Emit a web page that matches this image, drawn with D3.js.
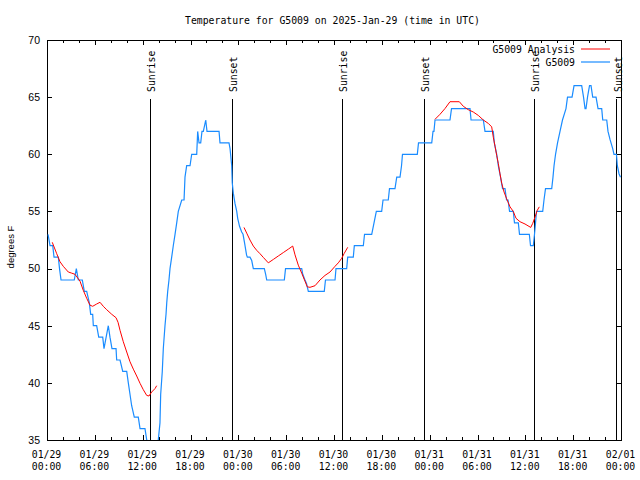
<!DOCTYPE html>
<html><head><meta charset="utf-8">
<script src="https://cdn.jsdelivr.net/npm/d3@7"></script>
<style>
body{margin:0;background:#fff;}
svg{display:block;}
.mono{font-family:"DejaVu Sans Mono","Liberation Mono",monospace;font-size:9.8px;fill:#000;}
.sans{font-family:"Liberation Sans",Arial,sans-serif;fill:#000;}
</style>
</head><body>
<svg id="c" width="640" height="480"></svg>
<script>
// ---- data (hours after 2025-01-29 00:00 UTC, degrees F) ----
const titleText = "Temperature for G5009 on 2025-Jan-29 (time in UTC)";
const yLabel = "degrees F";
const yTicks = [35,40,45,50,55,60,65,70];
const xMajorHours = [0,6,12,18,24,30,36,42,48,54,60,66,72];
const xMinorHours = [2,4,8,10,14,16,20,22,26,28,32,34,38,40,44,46,50,52,56,58,62,64,68,70];
const sunHours = [12.96,23.24,37.04,47.33,61.13,71.46];
const sunLabels = ["Sunrise","Sunset","Sunrise","Sunset","Sunrise","Sunset"];
const seriesNames = ["G5009 Analysis","G5009"];

// observed G5009 readings [hour, temp]
const obsReadings = [
[0.13,53],[0.38,52],[0.72,52],[0.88,51],[1.42,51],[1.57,50],[1.76,49],[3.42,49],[3.68,50],[3.93,49],
[4.43,49],[4.68,48],[4.98,48],[5.31,47],[5.48,46],[5.73,46],[5.81,45],[6.23,45],[6.49,44],[6.99,44],
[7.15,43],[7.69,45],[7.90,44],[8.15,43],[8.66,43],[8.74,42],[9.16,42],[9.50,41],[10.00,41],[10.20,40],
[10.41,39],[10.62,38],[10.95,37],[11.45,37],[11.67,36],[12.29,36],[12.51,35],[13.17,33],[13.96,35],[14.17,36.5],
[14.26,39],[14.46,41],[14.59,43],[14.80,45],[14.93,46],[15.02,47],[15.14,48],[15.30,49],[15.43,50],[15.64,51],
[15.84,52],[16.06,53],[16.27,54],[16.47,55],[16.90,56],[17.19,56],[17.31,58],[17.52,59],[17.94,59],[18.15,60],
[18.78,60],[18.90,62],[19.07,61],[19.28,61],[19.44,62],[19.61,62],[19.91,63],[20.07,62],[21.58,62],[21.70,61],
[22.83,61],[22.96,60.5],[23.17,59],[23.24,57.5],[23.37,56.6],[23.58,55.7],[23.80,55],[23.92,54.4],[24.15,53.7],[24.42,53.2],
[24.59,53],[24.77,52.3],[25.03,51.2],[25.13,51],[25.46,51],[25.68,50.7],[25.88,50],[27.26,50],[27.43,49.5],[27.56,49],
[29.77,49],[29.92,50],[31.95,50],[32.08,49.5],[32.36,49],[32.55,48.7],[32.78,48],[34.78,48],[34.93,49],[36.13,49],
[36.25,50],[37.59,50],[37.72,51],[38.42,51],[38.55,52],[39.68,52],[39.83,53],[40.73,53],[41.02,54],[41.31,55],
[41.98,55],[42.15,56],[42.81,56],[42.96,57],[43.65,57],[43.87,58],[44.28,58],[44.47,59],[44.59,60],[46.45,60],
[46.60,61],[48.26,61],[48.42,62],[48.54,62],[48.67,63],[50.55,63],[50.74,64],[53.06,64],[53.19,63],[54.73,63],
[54.94,62],[55.98,62],[56.11,61],[56.41,60],[56.61,59],[56.89,58],[57.14,57],[57.45,57],[57.64,56],[57.83,56],
[58.02,55],[58.49,55],[58.64,54],[59.12,54],[59.27,53],[60.50,53],[60.65,52],[61.00,52],[61.15,53],[61.28,54],
[61.40,55],[62.18,55],[62.34,56],[62.53,57],[63.31,57],[63.47,58],[63.60,59],[63.79,60],[64.04,61],[64.35,62],
[64.66,63],[65.10,64],[65.29,65],[65.86,65],[66.11,66],[67.07,66],[67.30,65],[67.49,64],[67.61,64],[67.80,65],
[68.05,66],[68.24,66],[68.45,65],[68.87,65],[69.12,64],[69.58,64],[69.71,63],[70.21,63],[70.37,62],[70.62,61.3],
[70.96,60.5],[71.12,60],[71.43,60],[71.54,59],[71.75,58.3],[71.94,58]
];

// analysis G5009 Analysis [hour, temp]; null marks a gap
const analysisReadings = [
[0.66,52.3],[1.22,51.3],[1.63,50.6],[2.04,50.2],[2.67,49.7],[3.10,49.6],[3.51,49.5],[4.14,48.9],[4.55,48.1],[4.98,47.4],
[5.39,46.8],[5.73,46.7],[6.23,46.9],[6.65,47.05],[7.06,46.7],[7.49,46.4],[8.12,46.0],[8.66,45.7],[8.91,45.3],[9.16,44.6],
[9.57,43.6],[10.00,42.7],[10.41,41.85],[10.83,41.2],[11.25,40.6],[11.67,39.96],[12.08,39.4],[12.51,38.9],[12.79,38.85],[13.13,39.2],
[13.55,39.5],[13.76,39.75],
null,
[24.71,53.6],[25.05,53.1],[25.46,52.5],[25.88,51.97],[26.30,51.6],[26.72,51.3],[27.13,50.98],[27.76,50.5],[28.39,50.8],[29.01,51.1],
[29.64,51.4],[30.27,51.7],[30.82,51.97],[31.11,51.2],[31.52,50.3],[31.95,49.6],[32.36,48.9],[32.65,48.4],[32.99,48.36],[33.62,48.5],
[34.24,49.0],[34.87,49.4],[35.50,49.7],[36.13,50.2],[36.54,50.5],[36.97,50.9],[37.26,51.3],[37.72,51.86],
null,
[48.67,63.06],[49.30,63.5],[49.92,64.0],[50.55,64.6],[51.72,64.6],[52.22,64.2],[52.85,63.9],[53.47,63.7],[54.10,63.4],[54.73,63.0],
[55.36,62.7],[55.78,62.4],[55.98,61.5],[56.20,60.7],[56.41,59.9],[56.61,59.2],[56.82,58.3],[57.04,57.46],[57.33,56.7],[57.66,56.1],
[58.08,55.4],[58.49,55.0],[58.83,54.4],[59.33,54.1],[59.96,53.9],[60.68,53.6],[60.93,53.96],[61.21,54.5],[61.50,55.1],[61.75,55.4]
];

const seriesColors = ["#ff0000","#1a8cff"];

// ---- drawing ----
const base = Date.UTC(2025,0,29,0,0);
const toDate = h => new Date(base + h*3600e3);
const L=47, R=621, T=40, B=440;
const x = d3.scaleUtc().domain([toDate(0), toDate(72)]).range([L,R]);
const y = d3.scaleLinear().domain([35,70]).range([B,T]);
const svg = d3.select("#c");

svg.append("defs").append("clipPath").attr("id","clip")
  .append("rect").attr("x",L).attr("y",T).attr("width",R-L).attr("height",B-T);

// title
svg.append("text").attr("class","mono").attr("x",332.5).attr("y",24)
  .attr("text-anchor","middle").text(titleText);

// axes
const fmtDay = d3.utcFormat("%m/%d"), fmtTime = d3.utcFormat("%H:%M");
const gxB = svg.append("g").attr("transform",`translate(0,${B})`)
  .call(d3.axisBottom(x).tickValues(xMajorHours.map(toDate)).tickSizeInner(-5).tickSizeOuter(0).tickFormat(""));
gxB.selectAll(".tick").each(function(d){
  const t = d3.select(this).select("text");
  t.attr("class","mono").attr("y",18).attr("dy",0).attr("fill",null);
  t.append("tspan").attr("x",-1).attr("dy",0).text(fmtDay(d));
  t.append("tspan").attr("x",-1).attr("dy",12).text(fmtTime(d));
});
svg.append("g").attr("transform",`translate(0,${B})`)
  .call(d3.axisBottom(x).tickValues(xMinorHours.map(toDate)).tickSizeInner(-3).tickSizeOuter(0).tickFormat(""));
svg.append("g").attr("transform",`translate(0,${T})`)
  .call(d3.axisTop(x).tickValues(xMajorHours.map(toDate)).tickSizeInner(-5).tickSizeOuter(0).tickFormat(""));
svg.append("g").attr("transform",`translate(0,${T})`)
  .call(d3.axisTop(x).tickValues(xMinorHours.map(toDate)).tickSizeInner(-3).tickSizeOuter(0).tickFormat(""));
const gyL = svg.append("g").attr("transform",`translate(${L},0)`)
  .call(d3.axisLeft(y).tickValues(yTicks).tickSizeInner(-5).tickSizeOuter(0).tickPadding(7).tickFormat(d3.format("d")));
gyL.selectAll("text").attr("class","sans").style("font-size","10.5px").attr("fill",null);
svg.append("g").attr("transform",`translate(${R},0)`)
  .call(d3.axisRight(y).tickValues(yTicks).tickSizeInner(-5).tickSizeOuter(0).tickFormat(""));
svg.selectAll(".domain").remove();
svg.selectAll(".tick line").attr("stroke","#000").attr("shape-rendering","crispEdges");
svg.selectAll("g").attr("font-family",null).attr("font-size",null);

// y label
svg.append("text").attr("class","sans").style("font-size","9.5px")
  .attr("transform","translate(14,247) rotate(-90)").attr("text-anchor","middle").text(yLabel);

// border
svg.append("rect").attr("x",L).attr("y",T).attr("width",R-L).attr("height",B-T)
  .attr("fill","none").attr("stroke","#000").attr("shape-rendering","crispEdges");

// sun lines
sunHours.forEach((h,i)=>{
  const xx = x(toDate(h));
  svg.append("line").attr("x1",xx).attr("x2",xx).attr("y1",99).attr("y2",B)
    .attr("stroke","#000").attr("shape-rendering","crispEdges");
  svg.append("text").attr("class","mono")
    .attr("transform",`translate(${xx+5},92) rotate(-90)`).attr("text-anchor","start").text(sunLabels[i]);
});

// data lines
const line = d3.line().defined(d=>d!==null).x(d=>x(toDate(d[0]))).y(d=>y(d[1]));
const gData = svg.append("g").attr("clip-path","url(#clip)");
gData.append("path").datum(obsReadings).attr("d",line).attr("fill","none")
  .attr("stroke",seriesColors[1]).attr("stroke-width",1.2).attr("stroke-linejoin","miter");
gData.append("path").datum(analysisReadings).attr("d",line).attr("fill","none")
  .attr("stroke",seriesColors[0]).attr("stroke-width",1);

// legend
seriesNames.forEach((n,i)=>{
  const yy = 49 + i*13;
  svg.append("text").attr("class","mono").attr("x",575).attr("y",yy+4).attr("text-anchor","end").text(n);
  svg.append("line").attr("x1",581).attr("x2",610).attr("y1",yy).attr("y2",yy)
    .attr("stroke",seriesColors[i]).attr("stroke-width", i===0?1:1.2);
});
</script>
</body></html>
